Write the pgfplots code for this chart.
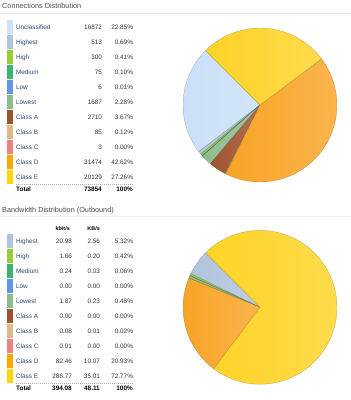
\documentclass[border=0pt]{standalone}
\usepackage{pgfplots}
\pgfplotsset{compat=1.18}
\usepackage{fontspec}
\setmainfont{Liberation Sans}
\definecolor{cUn}{HTML}{CCE3F9}
\definecolor{cHighest}{HTML}{B0C4DE}
\definecolor{cHigh}{HTML}{9ACD32}
\definecolor{cMedium}{HTML}{3CB371}
\definecolor{cLow}{HTML}{6495ED}
\definecolor{cLowest}{HTML}{8FBC8F}
\definecolor{cA}{HTML}{A0522D}
\definecolor{cB}{HTML}{DEB887}
\definecolor{cC}{HTML}{F08080}
\definecolor{cD}{HTML}{FFA500}
\definecolor{cE}{HTML}{FFD700}
\definecolor{pUn}{HTML}{C9E0F7}
\definecolor{pD}{HTML}{F8A425}
\definecolor{pE}{HTML}{FDD325}
\definecolor{namec}{HTML}{2A4A70}
\definecolor{numc}{HTML}{333333}
\definecolor{titlec}{HTML}{4A4A4A}
\definecolor{linec}{HTML}{EBEBEB}
\newcommand\tfont{\fontsize{6.4}{7}\selectfont}
\newcommand\rowA[3]{\makebox[56pt][l]{\textcolor{namec}{#1}}\makebox[30pt][r]{#2}\makebox[31pt][r]{#3}}
\newcommand\rowB[4]{\makebox[30pt][l]{\textcolor{namec}{#1}}\makebox[26pt][r]{#2}\makebox[28pt][r]{#3}\makebox[33pt][r]{#4}}
% one pie slice from a percentage, continuing counter-clockwise from \pcur
\newcommand\pieslice[2]{%
  \pgfmathsetmacro\pa{\pcur}%
  \pgfmathsetmacro\pb{\pcur+3.6*#1}%
  \xdef\pcur{\pb}%
  \ifdim #1pt>0.001pt
    \pgfmathtruncatemacro\ns{max(3,ceil(abs(3.6*#1)/2))}%
    \edef\tmp{\noexpand\addplot[forget plot, left color=#2, right color=#2!82!white, draw=black, draw opacity=0.22, line width=0.4pt, domain=\pa:\pb, samples=\ns] ({cos(x)},{sin(x)}) -- (axis cs:0,0) -- cycle;}%
    \tmp
  \fi}
\pgfplotsset{pieaxis/.style={anchor=center, width=154pt, height=154pt, scale only axis, hide axis,
  xmin=-1, xmax=1, ymin=-1, ymax=1, clip=false, legend cell align=left,
  legend image code/.code={\fill[##1, draw=none] (0pt,-6.1pt) rectangle (6pt,8.1pt); \path[draw=none, fill=none] (0pt,-6.5pt) rectangle (8.7pt,8.5pt);},
  legend style={anchor=north west, draw=none, fill=none, inner sep=0pt, outer sep=0pt, row sep=0pt,
    nodes={inner sep=0pt, outer sep=0pt, font=\tfont, text=numc}}}}
\begin{document}
\begin{tikzpicture}[x=1pt,y=1pt]
\path[use as bounding box] (0,0) rectangle (351,-400);
% ---------- Connections ----------
\node[anchor=base west, font=\fontsize{7.3}{8}\selectfont, text=titlec, inner sep=0pt] at (2,-8.6) {Connections Distribution};
\draw[linec, line width=0.6pt] (0,-13) -- (351,-13);
\begin{axis}[pieaxis, at={(260pt,-105pt)}, legend style={at={(-1.1409,1.0571)}}]
\xdef\pcur{135}
\pieslice{22.85}{pUn}
\pieslice{0.69}{cHighest}
\pieslice{0.41}{cHigh}
\pieslice{0.10}{cMedium}
\pieslice{0.01}{cLow}
\pieslice{2.28}{cLowest}
\pieslice{3.67}{cA}
\pieslice{0.12}{cB}
\pieslice{0.00}{cC}
\pieslice{42.62}{pD}
\pieslice{27.26}{pE}
\addlegendimage{cUn}\addlegendentry{\rowA{Unclassified}{16872}{22.85\%}}
\addlegendimage{cHighest}\addlegendentry{\rowA{Highest}{513}{0.69\%}}
\addlegendimage{cHigh}\addlegendentry{\rowA{High}{300}{0.41\%}}
\addlegendimage{cMedium}\addlegendentry{\rowA{Medium}{75}{0.10\%}}
\addlegendimage{cLow}\addlegendentry{\rowA{Low}{6}{0.01\%}}
\addlegendimage{cLowest}\addlegendentry{\rowA{Lowest}{1687}{2.28\%}}
\addlegendimage{cA}\addlegendentry{\rowA{Class A}{2710}{3.67\%}}
\addlegendimage{cB}\addlegendentry{\rowA{Class B}{85}{0.12\%}}
\addlegendimage{cC}\addlegendentry{\rowA{Class C}{3}{0.00\%}}
\addlegendimage{cD}\addlegendentry{\rowA{Class D}{31474}{42.62\%}}
\addlegendimage{cE}\addlegendentry{\rowA{Class E}{20129}{27.26\%}}
\end{axis}
\draw[black!30, dashed, dash pattern=on 1pt off 1pt, line width=0.3pt] (16,-184) -- (133,-184);
\begin{scope}[every node/.style={font=\tfont\bfseries, text=black, inner sep=0pt}]
\node[anchor=base west] at (16,-191.3) {Total};
\node[anchor=base east] at (102,-191.3) {73854};
\node[anchor=base east] at (133,-191.3) {100\%};
\end{scope}
% ---------- Bandwidth ----------
\node[anchor=base west, font=\fontsize{7.3}{8}\selectfont, text=titlec, inner sep=0pt] at (2,-212.6) {Bandwidth Distribution (Outbound)};
\draw[linec, line width=0.6pt] (0,-216.5) -- (351,-216.5);
\begin{scope}[every node/.style={font=\fontsize{5.4}{6}\selectfont\bfseries, text=black, inner sep=0pt}]
\node[anchor=base east] at (70,-230) {kbit/s};
\node[anchor=base east] at (100,-230) {KB/s};
\end{scope}
\begin{axis}[pieaxis, at={(260pt,-307.3pt)}, legend style={at={(-1.1409,0.981)}}]
\xdef\pcur{135}
\pieslice{5.32}{cHighest}
\pieslice{0.42}{cHigh}
\pieslice{0.06}{cMedium}
\pieslice{0.00}{cLow}
\pieslice{0.48}{cLowest}
\pieslice{0.00}{cA}
\pieslice{0.02}{cB}
\pieslice{0.00}{cC}
\pieslice{20.93}{pD}
\pieslice{72.77}{pE}
\addlegendimage{cHighest}\addlegendentry{\rowB{Highest}{20.98}{2.56}{5.32\%}}
\addlegendimage{cHigh}\addlegendentry{\rowB{High}{1.66}{0.20}{0.42\%}}
\addlegendimage{cMedium}\addlegendentry{\rowB{Medium}{0.24}{0.03}{0.06\%}}
\addlegendimage{cLow}\addlegendentry{\rowB{Low}{0.00}{0.00}{0.00\%}}
\addlegendimage{cLowest}\addlegendentry{\rowB{Lowest}{1.87}{0.23}{0.48\%}}
\addlegendimage{cA}\addlegendentry{\rowB{Class A}{0.00}{0.00}{0.00\%}}
\addlegendimage{cB}\addlegendentry{\rowB{Class B}{0.08}{0.01}{0.02\%}}
\addlegendimage{cC}\addlegendentry{\rowB{Class C}{0.01}{0.00}{0.00\%}}
\addlegendimage{cD}\addlegendentry{\rowB{Class D}{82.46}{10.07}{20.93\%}}
\addlegendimage{cE}\addlegendentry{\rowB{Class E}{286.77}{35.01}{72.77\%}}
\end{axis}
\draw[black!30, dashed, dash pattern=on 1pt off 1pt, line width=0.3pt] (16,-383) -- (133,-383);
\begin{scope}[every node/.style={font=\tfont\bfseries, text=black, inner sep=0pt}]
\node[anchor=base west] at (16,-390) {Total};
\node[anchor=base east] at (72,-390) {394.08};
\node[anchor=base east] at (100,-390) {48.11};
\node[anchor=base east] at (133,-390) {100\%};
\end{scope}
\end{tikzpicture}
\end{document}
